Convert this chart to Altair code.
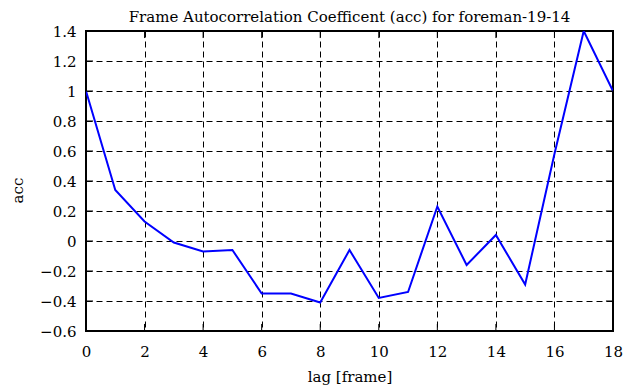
import altair as alt
import pandas as pd

lags = list(range(19))
acc = [1.0, 0.34, 0.13, -0.01, -0.07, -0.06, -0.35, -0.35, -0.41, -0.06,
       -0.38, -0.34, 0.23, -0.16, 0.04, -0.29, 0.58, 1.40, 1.0]
x_ticks = [0, 2, 4, 6, 8, 10, 12, 14, 16, 18]
y_ticks = [-0.6, -0.4, -0.2, 0, 0.2, 0.4, 0.6, 0.8, 1.0, 1.2, 1.4]
title_text = "Frame Autocorrelation Coefficent (acc) for foreman-19-14"

FONT = "DejaVu Serif"
FS = 15

df = pd.DataFrame({"lag": lags, "acc": acc})

# inward tick segments (gnuplot style), derived from tick values
xmin, xmax = 0, 18
ymin, ymax = -0.6, 1.4
tx = 0.24   # tick length in lag units
ty = 0.047  # tick length in acc units
rows = []
for v in x_ticks:
    rows.append({"lag": v, "lag2": v, "acc": ymin, "acc2": ymin + ty})
    rows.append({"lag": v, "lag2": v, "acc": ymax, "acc2": ymax - ty})
for v in y_ticks:
    rows.append({"lag": xmin, "lag2": xmin + tx, "acc": v, "acc2": v})
    rows.append({"lag": xmax, "lag2": xmax - tx, "acc": v, "acc2": v})
ticks_df = pd.DataFrame(rows)

xscale = alt.Scale(domain=[xmin, xmax], nice=False, zero=False)
yscale = alt.Scale(domain=[ymin, ymax], nice=False, zero=False)

xaxis = alt.Axis(
    values=x_ticks, title="lag [frame]", grid=True, gridDash=[6, 4],
    gridColor="black", gridWidth=1, gridOpacity=1, domain=False, ticks=False,
    labelFont=FONT, labelFontSize=FS, labelColor="black", labelPadding=20,
    labelBaseline="middle", labelFlush=False, labelOverlap=False,
    titleFont=FONT, titleFontSize=FS, titleFontWeight="normal", titleColor="black",
    titleY=45, titleBaseline="middle",
)
yaxis = alt.Axis(
    values=y_ticks, title="acc", grid=True, gridDash=[6, 4],
    gridColor="black", gridWidth=1, gridOpacity=1, domain=False, ticks=False,
    labelFont=FONT, labelFontSize=FS, labelColor="black", labelPadding=10,
    labelFlush=False, labelOverlap=False, format="~g",
    titleFont=FONT, titleFontSize=FS, titleFontWeight="normal", titleColor="black",
    titleX=-64, titleY=159, titleAngle=-90, titleBaseline="alphabetic", titleAlign="center",
)

line = alt.Chart(df).mark_line(color="#0000ff", strokeWidth=2, clip=True).encode(
    x=alt.X("lag:Q", scale=xscale, axis=xaxis),
    y=alt.Y("acc:Q", scale=yscale, axis=yaxis),
)

ticks = alt.Chart(ticks_df).mark_rule(color="black", strokeWidth=1).encode(
    x=alt.X("lag:Q", scale=xscale, axis=xaxis),
    x2="lag2:Q",
    y=alt.Y("acc:Q", scale=yscale, axis=yaxis),
    y2="acc2:Q",
)

chart = alt.layer(line, ticks).properties(
    width=527,
    height=300,
    padding={"left": 78, "top": 23, "right": 20, "bottom": 54},
    autosize=alt.AutoSizeParams(type="none"),
    background="white",
    title=alt.Title(title_text, font=FONT, fontSize=FS, fontWeight="normal",
                    color="black", anchor="middle", baseline="alphabetic", offset=-13),
).configure_view(stroke="black", strokeWidth=2)

chart.save("out.html", embed_options={"renderer": "svg", "actions": False})
